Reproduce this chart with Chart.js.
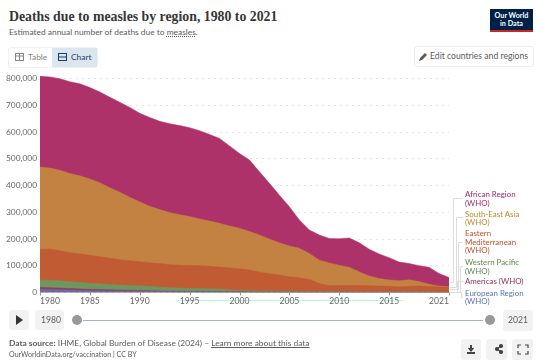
<!DOCTYPE html>
<html><head><meta charset="utf-8">
<script src="https://cdn.jsdelivr.net/npm/chart.js@4"></script>
<style>
html,body{margin:0;padding:0;background:#fff;width:540px;height:361px;overflow:hidden;font-family:Lato,sans-serif}
.t{position:absolute;white-space:nowrap;line-height:10px;font-size:8.4px;color:#5b5b5b}
#c{position:absolute;left:0;top:0;width:540px;height:361px}
.btn{position:absolute;border-radius:3px;background:#f2f2f2}
.leg{position:absolute;left:465px;font-size:7.9px;line-height:8.6px;white-space:nowrap}
</style></head><body>
<div class="t" style="left:9px;top:12px;font:bold 13.8px/10px 'Liberation Serif',serif;color:#363636">Deaths due to measles by region, 1980 to 2021</div>
<div class="t" style="left:9px;top:27px">Estimated annual number of deaths due to <span style="text-decoration:underline dotted">measles</span>.</div>
<div style="position:absolute;left:490px;top:9px;width:43px;background:#002147;border-bottom:2px solid #ce261e;color:#fff;font-size:7.2px;line-height:8px;text-align:center;font-weight:700;padding-top:3px;height:18px">Our World<br>in Data</div>
<div style="position:absolute;left:8px;top:47px;width:88px;height:19px;border:1px solid #f0f0f0;border-radius:3px"></div>
<div style="position:absolute;left:52px;top:48px;width:45px;height:19px;background:#dbe5f0"></div>
<div class="t" style="left:28px;top:52px;color:#858585">Table</div>
<div class="t" style="left:71px;top:52px;color:#1d3d63">Chart</div>
<svg style="position:absolute;left:15px;top:53px" width="10" height="9"><rect x=".5" y=".5" width="8" height="7" fill="none" stroke="#858585"/><path d="M.5 3H8.5M4.5 .5V7.5" stroke="#858585"/></svg>
<svg style="position:absolute;left:58px;top:53px" width="10" height="9"><rect x=".5" y=".5" width="8" height="7" fill="none" stroke="#1d3d63"/><path d="M.5 4H8.5" stroke="#1d3d63"/></svg>
<div style="position:absolute;left:414px;top:46px;width:118px;height:19px;border:1px solid #eee;border-radius:3px"></div>
<svg style="position:absolute;left:419px;top:52px" width="9" height="9"><path d="M0 9L1 6L6 1L8 3L3 8Z" fill="#5b5b5b"/></svg>
<div class="t" style="left:430px;top:51px;font-size:8.65px">Edit countries and regions</div>
<div style="position:absolute;left:176px;top:300px;width:227px;height:1px;background:#b9f6e0"></div>
<canvas id="c" width="540" height="361"></canvas>
<div class="leg" style="top:190px;color:#a2286b">African Region<br>(WHO)</div>
<div class="leg" style="top:209.5px;color:#c4862d">South-East Asia<br>(WHO)</div>
<div class="leg" style="top:229px;color:#c0502a">Eastern<br>Mediterranean<br>(WHO)</div>
<div class="leg" style="top:258px;color:#5f8a4f">Western Pacific<br>(WHO)</div>
<div class="leg" style="top:277px;color:#93334f">Americas (WHO)</div>
<div class="leg" style="top:288.5px;color:#5a74b0">European Region<br>(WHO)</div>
<div class="btn" style="left:9px;top:310px;width:20px;height:20px"></div>
<svg style="position:absolute;left:15px;top:315px" width="9" height="10"><path d="M1 0L8 5L1 10Z" fill="#333"/></svg>
<div class="btn" style="left:35px;top:310px;width:29px;height:20px"></div>
<div class="t" style="left:41px;top:315px;font-size:8.6px">1980</div>
<div style="position:absolute;left:83px;top:320px;width:400px;height:1px;background:#9fb3d0"></div>
<div style="position:absolute;left:72px;top:315px;width:10px;height:10px;border-radius:50%;background:#999"></div>
<div style="position:absolute;left:485px;top:315px;width:10px;height:10px;border-radius:50%;background:#999"></div>
<div class="btn" style="left:503px;top:310px;width:30px;height:21px"></div>
<div class="t" style="left:508px;top:315px;font-size:8.6px">2021</div>
<div class="t" style="left:9px;top:338px"><b>Data source:</b> IHME, Global Burden of Disease (2024) – <u>Learn more about this data</u></div>
<div class="t" style="left:9px;top:350px;font-size:7.1px">OurWorldinData.org/vaccination | CC BY</div>
<div class="btn" style="left:461px;top:339px;width:20px;height:21px"></div>
<div class="btn" style="left:486px;top:339px;width:21px;height:21px"></div>
<div class="btn" style="left:512px;top:339px;width:21px;height:21px"></div>
<svg style="position:absolute;left:460px;top:339px" width="73" height="21" fill="none" stroke="#444" stroke-width="1.2"><path d="M7 14H15M11 6V11" stroke-width="2"/><path d="M8.5 9L11 12L13.5 9" fill="#444"/><circle cx="37" cy="10" r="1.5" fill="#444"/><circle cx="41" cy="7" r="1.5" fill="#444"/><circle cx="41" cy="13" r="1.5" fill="#444"/><path d="M37 10L41 7M37 10L41 13"/><path d="M58 9V6H61M65 6H68V9M68 12V15H65M61 15H58V12"/></svg>
<script>
const years = [1980,1981,1982,1983,1984,1985,1986,1987,1988,1989,1990,1991,1992,1993,1994,1995,1996,1997,1998,1999,2000,2001,2002,2003,2004,2005,2006,2007,2008,2009,2010,2011,2012,2013,2014,2015,2016,2017,2018,2019,2020,2021];
const xTicks = [1980,1985,1990,1995,2000,2005,2010,2015,2021];
const yTicks = [0,100000,200000,300000,400000,500000,600000,700000,800000];
// values in thousands of deaths per region
const european = [12,11,10,9,8,7,6.5,6,5.5,5,5,4.5,4,3.5,3,3,2.5,2.5,2,2,1.5,1.2,1,1,.8,.7,.6,.5,.5,.5,.4,.4,.4,.3,.3,.3,.3,.3,.3,.3,.2,.2];
const americas = [7,7,6.5,6,5.5,5,4.5,4,3.5,3.3,3,2.5,2,1.8,1.5,1.2,1.2,1,1,1,1,.8,.8,.7,.6,.5,.5,.5,.5,.4,.4,.4,.4,.4,.4,.4,.4,.3,.3,.3,.3,.3];
const westernPacific = [27,28,27.5,25,24.5,23,22,20,19,17.7,17,16,14,12.7,12.5,10.8,11.3,10.5,10,7,5.5,5,4.2,4.3,3.6,3.8,2.9,3,3,2.8,2.7,2.5,2.4,2.3,2.1,2,2,1.9,1.9,1.7,1.6,1.5];
const easternMed = [116,116,112,109,106,104,101,98,94,93,90,88,88,86,85,86,85,84,82,82,81,77,70,64,60,53,51,45,30,22,22.5,22.7,22.8,22,21.2,20.3,18.3,20.8,21.8,19.7,18.9,19];
const southEastAsia = [307,303,301,296,292,285,276,264,253,237,224,211,202,195,189,183,175,169,164,157,151,144,139,130,121,116,110,97,87,85,76,68,52,37,28,24,23,24,17,9,3,1];
const african = [339,341,342,343,344,342,340,338,336,336,331,332,330,332,333,332,330,324,317,299,280,267,236,208,178,147,106,88,94,91,99,110,108,100,92,83,70,61,59,63,47,34];

const sets = [
 ['European Region (WHO)', european, 'rgba(92,116,176,.95)'],
 ['Americas (WHO)', americas, 'rgb(160,52,90)'],
 ['Western Pacific (WHO)', westernPacific, 'rgb(112,150,96)'],
 ['Eastern Mediterranean (WHO)', easternMed, 'rgb(192,91,51)'],
 ['South-East Asia (WHO)', southEastAsia, 'rgb(195,130,66)'],
 ['African Region (WHO)', african, 'rgb(172,50,105)']
];
const connectors = {
 id:'connectors',
 afterDraw(chart){
  const ctx = chart.ctx, ys = chart.scales.y, xs = chart.scales.x;
  const x0 = xs.getPixelForValue(2021)+1;
  const route = [[5,453,198],[4,456,217],[3,458,242],[2,460,266],[1,457,281],[0,461,297]];
  const last = years.length-1;
  ctx.save(); ctx.strokeStyle='#ddd'; ctx.lineWidth=1;
  route.forEach(([i,vx,ly])=>{
    let low=0; for(let k=0;k<i;k++) low+=sets[k][1][last];
    const y = Math.round(ys.getPixelForValue((low+sets[i][1][last]/2)*1000))+.5;
    ctx.beginPath(); ctx.moveTo(x0,y); ctx.lineTo(vx+.5,y); ctx.lineTo(vx+.5,ly+.5); ctx.lineTo(463,ly+.5); ctx.stroke();
  });
  ctx.strokeStyle='#999';
  const by = ys.getPixelForValue(0);
  xTicks.forEach(v=>{const x=Math.round(xs.getPixelForValue(v))+.5; ctx.beginPath(); ctx.moveTo(x,by); ctx.lineTo(x,by+3); ctx.stroke();});
  ctx.restore();
 }
};
new Chart(document.getElementById('c'),{
 type:'line',
 data:{datasets:sets.map(([label,vals,color])=>({label,data:vals.map((v,i)=>({x:years[i],y:v*1000})),backgroundColor:color,borderColor:color,borderWidth:.5,fill:true,pointRadius:0,tension:0}))},
 plugins:[connectors],
 options:{
  responsive:false,animation:false,
  layout:{padding:{left:0,right:91,top:73.15,bottom:0}},
  plugins:{legend:{display:false},tooltip:{enabled:false}},
  scales:{
   x:{type:'linear',min:1980,max:2021,
      afterFit(s){s.height=68.5},
      afterBuildTicks(s){s.ticks=xTicks.map(v=>({value:v}))},
      grid:{display:false,drawTicks:false},border:{display:false},
      ticks:{align:'inner',autoSkip:false,maxRotation:0,color:'#666',font:{family:'Lato',size:8.6},padding:4,callback:v=>String(v)}},
   y:{stacked:true,min:0,max:820000,
      afterFit(s){s.width=40},
      afterBuildTicks(s){s.ticks=yTicks.map(v=>({value:v}))},
      grid:{color:'#e4e4e4',drawTicks:false,lineWidth:1},border:{display:false,dash:[2,4]},
      ticks:{color:'#666',font:{family:'Lato',size:8.4},padding:3,callback:v=>v.toLocaleString('en-US')}}
  }
 }
});
</script>
</body></html>
